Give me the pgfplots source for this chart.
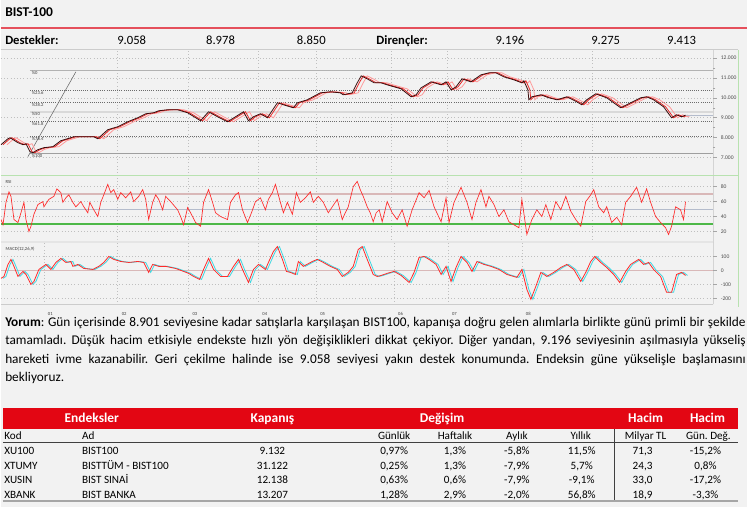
\documentclass[border=0pt]{standalone}
\usepackage{fontspec}
\setmainfont{Carlito}
\usepackage{pgfplots}
\usepackage{pgfplotstable}
\pgfplotsset{compat=1.18}
\frenchspacing

\definecolor{bg}{HTML}{F2F2F2}
\definecolor{hdrred}{HTML}{E30613}
\definecolor{titlered}{HTML}{E5505C}
\definecolor{framegreen}{HTML}{B8E2B0}
\definecolor{pricedk}{HTML}{3A0C0C}
\definecolor{mared}{HTML}{E82828}
\definecolor{mapink}{HTML}{FF9A9A}
\definecolor{rsired}{HTML}{FF2A2A}
\definecolor{macdcyan}{HTML}{3ED8E2}
\definecolor{ob}{HTML}{D9B8B8}
\definecolor{mid}{HTML}{B4BCCC}
\definecolor{osgreen}{HTML}{4DB848}

% price (x = bar position, v = index level)
\pgfplotstableread{
x v
0 7650
7 7950
9 8000
17 7750
22 7650
25 7700
29 7300
32 7250
37 7400
43 7500
52 7550
60 7850
70 8000
73 8050
83 8050
93 8050
97 7950
107 8400
117 8550
127 8800
137 9000
145 9200
153 9250
158 9350
167 9400
177 9400
187 9250
200 8850
208 9300
217 9050
227 8800
235 9050
243 9300
248 8850
253 9050
260 9200
267 9000
277 9750
283 9650
293 9500
297 9750
307 9900
320 10250
330 10300
340 10250
343 10150
352 10250
357 10750
361 11100
367 10950
374 10750
381 10750
387 10650
394 10550
401 10450
411 10050
416 10150
421 10500
431 10800
441 10650
446 10800
451 10400
456 10550
462 10950
471 10800
481 11150
489 11250
496 11250
504 11050
514 10900
522 10750
524 10850
528 10400
529 9900
532 10050
541 10150
549 10000
557 9900
567 10050
577 9800
582 9650
587 9900
596 10200
607 10000
621 9500
631 9750
641 10000
647 10050
654 9900
664 9550
672 9000
677 9150
682 9050
686 9132
}\price

\pgfplotstableread{
x v
0 36
2 29
5 59
8 73
10 67
13 36
17 32
20 45
23 59
25 36
28 20
30 27
33 43
37 56
42 60
43 53
48 63
53 67
56 77
60 72
62 59
65 65
68 69
72 59
75 53
80 60
83 53
87 45
89 59
93 49
97 40
100 59
103 69
107 83
110 72
113 76
117 63
120 72
125 65
130 73
133 60
138 67
142 76
145 63
148 36
152 59
155 69
158 63
162 49
165 67
170 60
177 49
180 40
183 29
187 52
190 45
195 32
200 27
203 59
208 76
212 59
215 45
220 40
227 36
230 59
235 69
238 72
242 49
247 32
251 45
255 60
260 65
265 49
268 63
272 72
275 83
280 59
283 45
287 59
292 43
296 72
300 59
305 65
310 73
313 59
318 67
323 59
328 45
332 53
337 63
342 36
345 45
348 53
353 80
357 87
360 76
363 67
367 53
370 45
373 33
376 45
379 49
382 33
387 60
392 45
397 36
402 49
407 27
412 49
419 72
424 65
429 75
434 53
441 33
446 65
449 32
454 59
461 79
467 59
472 36
476 59
481 76
486 53
489 67
494 56
499 40
504 49
509 33
514 29
519 25
522 63
527 16
532 36
537 49
542 40
546 56
551 36
556 60
561 49
566 67
571 47
576 36
581 27
586 60
591 69
594 76
599 53
604 45
607 53
612 32
617 39
622 29
626 59
631 67
637 79
642 59
647 77
651 59
656 40
661 32
666 25
669 16
672 27
676 53
681 49
684 36
686 60
}\rsi

\pgfplotstableread{
x v
0 -57
3 -43
7 43
10 79
13 29
17 -43
22 -7
25 -29
30 -100
33 -79
38 7
45 43
50 7
55 57
60 86
65 57
70 64
72 29
77 43
83 14
92 7
98 29
103 57
108 100
113 79
120 64
128 57
137 64
143 57
148 -14
152 43
158 29
165 29
175 14
183 -7
188 -21
193 -43
199 -64
203 7
208 86
213 7
220 -43
227 -43
233 29
238 79
242 7
248 -86
253 7
258 43
265 7
268 57
273 136
277 171
282 79
286 -7
290 -14
295 -29
298 64
303 29
312 64
317 79
323 57
330 29
337 7
342 -43
348 -14
353 29
358 150
362 171
367 79
373 -29
377 -43
381 -36
387 -21
394 -7
401 -36
409 -86
414 -14
419 93
424 100
429 79
436 43
441 -29
446 29
451 -79
456 21
461 100
467 57
472 -7
477 64
484 43
491 29
499 7
507 -29
517 -50
522 7
527 -136
531 -207
536 -114
541 -14
547 -43
554 -14
561 21
567 43
574 7
581 -79
586 -14
591 64
595 100
601 57
607 21
614 -29
620 -86
626 -7
631 43
639 79
644 43
649 57
654 7
661 -43
667 -157
672 -157
677 -29
682 -14
686 -36
}\macd

\pgfplotsset{panel/.style={
  scale only axis, width=535.5pt, anchor=north west,
  xmin=0, xmax=714,
  axis background/.style={fill=bg},
  axis line style={draw=none},
  xtick={117,188,258,316,391,447,521,593},
  xticklabels={}, xtick style={draw=none},
  xmajorgrids, ymajorgrids,
  major grid style={gray!50, dotted, line width=0.4pt},
  ytick pos=right, yticklabel pos=right, tick align=outside,
  ytick style={gray!70, line width=0.4pt},
  major tick length=2.5pt, minor tick length=1.5pt,
  scaled y ticks=false, scaled x ticks=false,
  yticklabel style={font=\fontsize{4.2}{4.2}\selectfont, text=gray!60!black, xshift=-0.5pt},
}}

\begin{document}
\begin{tikzpicture}
\begin{scope}[x=0.75pt,y=-0.75pt]
\useasboundingbox (0,0) rectangle (748,508);
\fill[bg] (0,0) rectangle (748,508);
\coordinate (pA) at (0,50);
\coordinate (pB) at (0,176);
\coordinate (pC) at (0,243);
\end{scope}

% price panel with Fibonacci levels
\begin{axis}[panel, at={(pA)}, height=94.5pt,
  ymin=6100, ymax=12400,
  ytick={7000,8000,9000,10000,11000,12000},
  yticklabels={7.000,8.000,9.000,10.000,11.000,12.000},
  minor y tick num=1]
\addplot[gray!60, line width=0.8pt] coordinates {(29,11350) (714,11350)};
\addplot[gray!85!black, densely dotted, line width=0.6pt] coordinates {(29,10350) (714,10350)};
\addplot[gray!85!black, densely dotted, line width=0.6pt] coordinates {(29,9750) (714,9750)};
\addplot[gray!30, line width=1.2pt] coordinates {(29,9275) (714,9275)};
\addplot[gray!85!black, densely dotted, line width=0.6pt] coordinates {(29,8800) (714,8800)};
\addplot[gray!85!black, densely dotted, line width=0.6pt] coordinates {(29,8050) (714,8050)};
\addplot[gray!75, line width=0.8pt] coordinates {(29,7200) (714,7200)};
\addplot[gray!80!black, line width=0.4pt] coordinates {(27,7050) (75,11300)};
\addplot[mapink, line width=0.6pt] table[x expr=\thisrow{x}+6, y=v] {\price};
\addplot[mared, line width=0.6pt] table[x expr=\thisrow{x}+2, y=v] {\price};
\addplot[pricedk, line width=0.6pt] table[x=x, y=v] {\price};
\addplot[mid, line width=0.6pt] coordinates {(686,9132) (714,9132)};
\begin{scope}[every node/.style={font=\fontsize{3.5}{3.5}\selectfont, text=gray!50!black, anchor=west, inner sep=0.5pt}]
\node at (axis cs:30,11250) {\%0};
\node at (axis cs:30,10250) {\%23.6};
\node at (axis cs:30,9650) {\%38.2};
\node at (axis cs:30,9175) {\%50};
\node at (axis cs:30,8700) {\%61.8};
\node at (axis cs:30,7950) {\%76.4};
\node at (axis cs:30,7100) {\%100};
\end{scope}
\draw[gray!75] (rel axis cs:1,0) -- (rel axis cs:1,1);
\end{axis}

% RSI panel
\begin{axis}[panel, at={(pB)}, height=50.25pt,
  ymin=5.3, ymax=94.7,
  ytick={20,40,60,80}, yticklabels={20,40,60,80}]
\addplot[ob, line width=1.4pt] coordinates {(0,70) (714,70)};
\addplot[mid, line width=0.8pt] coordinates {(0,50) (714,50)};
\addplot[osgreen, line width=1.1pt] coordinates {(0,30) (714,30)};
\addplot[rsired, line width=0.5pt] table[x=x, y=v] {\rsi};
\node[font=\fontsize{3.5}{3.5}\selectfont, text=gray!50!black, anchor=north west] at (rel axis cs:0,1) {RSI};
\draw[gray!75] (rel axis cs:1,0) -- (rel axis cs:1,1);
\end{axis}

% MACD panel
\begin{axis}[panel, at={(pC)}, height=46.5pt,
  ymin=-243, ymax=200,
  ytick={-200,-100,0,100}, yticklabels={-200,-100,0,100},
  xtick={43,117,188,258,316,394,448,522},
  xticklabels={01,02,03,04,05,06,07,08},
  xtick pos=bottom, xtick style={gray!70, line width=0.4pt},
  xticklabel style={font=\fontsize{3.5}{3.5}\selectfont, text=gray!50!black, anchor=north west, xshift=-0.5pt}]
\addplot[ob, line width=0.8pt] coordinates {(0,0) (714,0)};
\addplot[macdcyan, line width=0.6pt] table[x expr=\thisrow{x}+2, y=v] {\macd};
\addplot[rsired, line width=0.6pt] table[x=x, y=v] {\macd};
\node[font=\fontsize{3.5}{3.5}\selectfont, text=gray!50!black, anchor=north west] at (rel axis cs:0,1) {MACD(12,26,9)};
\draw[gray!75] (rel axis cs:1,0) -- (rel axis cs:1,1);
\draw[gray!40] (rel axis cs:0,0) -- (rel axis cs:1,0);
\end{axis}

\begin{scope}[x=0.75pt,y=-0.75pt]
% chart frame
\draw[gray!40, line width=0.6pt] (0,50) -- (739,50);
\draw[framegreen, line width=1.1pt] (0,176) -- (739,176);
\draw[gray!20, line width=1.5pt] (0,243) -- (714,243);
\draw[framegreen, line width=1pt] (739,50) -- (739,308);
% header
\node[anchor=base west, inner sep=0, font=\bfseries\fontsize{10.1}{12}\selectfont] at (4,16.5) {BIST-100};
\draw[titlered, line width=0.9pt] (0,28) -- (748,28);
\begin{scope}[every node/.style={anchor=base, inner sep=0, font=\fontsize{9.5}{11}\selectfont}]
\node[anchor=base west, font=\bfseries\fontsize{9.5}{11}\selectfont] at (4,45) {Destekler:};
\node at (131,45) {9.058};
\node at (220,45) {8.978};
\node at (311,45) {8.850};
\node[anchor=base west, font=\bfseries\fontsize{9.5}{11}\selectfont] at (376,45) {Dirençler:};
\node at (510,45) {9.196};
\node at (606,45) {9.275};
\node at (682,45) {9.413};
\end{scope}
% comment
\begin{scope}[every node/.style={anchor=base west, inner sep=0, font=\fontsize{10}{13.3}\selectfont}]
\node at (4,327) {\makebox[556.5pt][s]{\textbf{Yorum}: Gün içerisinde 8.901 seviyesine kadar satışlarla karşılaşan BIST100, kapanışa doğru gelen alımlarla birlikte günü primli bir şekilde}};
\node at (4,345.5) {\makebox[556.5pt][s]{tamamladı. Düşük hacim etkisiyle endekste hızlı yön değişiklikleri dikkat çekiyor. Diğer yandan, 9.196 seviyesinin aşılmasıyla yükseliş}};
\node at (4,364) {\makebox[556.5pt][s]{hareketi ivme kazanabilir. Geri çekilme halinde ise 9.058 seviyesi yakın destek konumunda. Endeksin güne yükselişle başlamasını}};
\node at (4,382.5) {bekliyoruz.};
\end{scope}
% table
\fill[hdrred] (2,409) rectangle (739,430);
\begin{scope}[every node/.style={anchor=base, inner sep=0, text=white, font=\bfseries\fontsize{10.1}{12}\selectfont}]
\node at (91,423.5) {Endeksler};
\node at (272,423.5) {Kapanış};
\node at (442,423.5) {Değişim};
\node at (646,423.5) {Hacim};
\node at (708,423.5) {Hacim};
\end{scope}
\draw[black!75, line width=0.8pt] (2,443) -- (739,443);
\draw[black!75, line width=0.8pt] (615,430) -- (615,502);
\draw[gray!70, line width=1.3pt] (2,502) -- (739,502);
\begin{scope}[every node/.style={anchor=base, inner sep=0, font=\fontsize{8.4}{10}\selectfont}]
\node[anchor=base west] at (3,440.5) {Kod};
\node[anchor=base west] at (81,440.5) {Ad};
\node at (394,440.5) {Günlük};
\node at (455,440.5) {Haftalık};
\node at (517,440.5) {Aylık};
\node at (581,440.5) {Yıllık};
\node at (646,440.5) {Milyar TL};
\node at (709,440.5) {Gün. Değ.};
% rows
\node[anchor=base west] at (3,455.5) {XU100};
\node[anchor=base west] at (81,455.5) {BIST100};
\node at (272,455.5) {9.132};
\node at (394,455.5) {0,97\%};
\node at (455,455.5) {1,3\%};
\node at (517,455.5) {-5,8\%};
\node at (582,455.5) {11,5\%};
\node at (643,455.5) {71,3};
\node at (706,455.5) {-15,2\%};
\node[anchor=base west] at (3,470) {XTUMY};
\node[anchor=base west] at (81,470) {BISTTÜM - BIST100};
\node at (272,470) {31.122};
\node at (394,470) {0,25\%};
\node at (455,470) {1,3\%};
\node at (517,470) {-7,9\%};
\node at (582,470) {5,7\%};
\node at (643,470) {24,3};
\node at (706,470) {0,8\%};
\node[anchor=base west] at (3,484.5) {XUSIN};
\node[anchor=base west] at (81,484.5) {BIST SINAİ};
\node at (272,484.5) {12.138};
\node at (394,484.5) {0,63\%};
\node at (455,484.5) {0,6\%};
\node at (517,484.5) {-7,9\%};
\node at (582,484.5) {-9,1\%};
\node at (643,484.5) {33,0};
\node at (706,484.5) {-17,2\%};
\node[anchor=base west] at (3,499.5) {XBANK};
\node[anchor=base west] at (81,499.5) {BIST BANKA};
\node at (272,499.5) {13.207};
\node at (394,499.5) {1,28\%};
\node at (455,499.5) {2,9\%};
\node at (517,499.5) {-2,0\%};
\node at (582,499.5) {56,8\%};
\node at (643,499.5) {18,9};
\node at (706,499.5) {-3,3\%};
\end{scope}
\end{scope}
\end{tikzpicture}
\end{document}
